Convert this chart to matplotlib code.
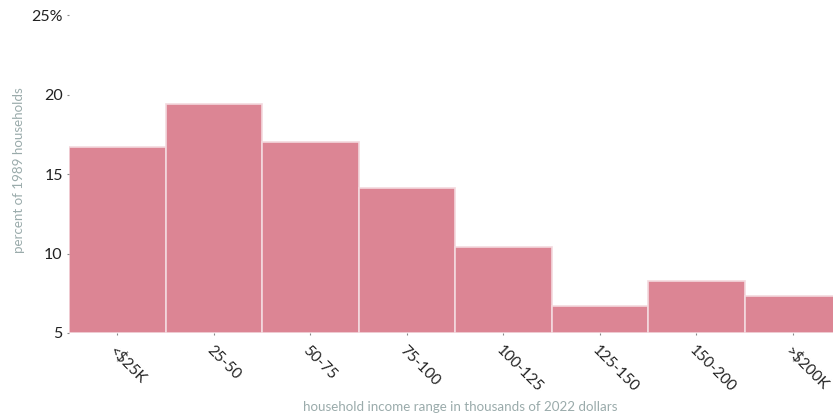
import matplotlib.pyplot as plt
import numpy as np

plt.rcParams['font.family'] = ['Lato', 'DejaVu Sans']

# udzial gospodarstw domowych wg przedzialu dochodu (1989)
przedzialy = ['<$25K', '25-50', '50-75', '75-100', '100-125', '125-150', '150-200', '>$200K']
procent = [16.7, 19.4, 17.0, 14.1, 10.4, 6.7, 8.3, 7.3]
y_ticki = [5, 10, 15, 20, 25]
y_etykiety = ['5', '10', '15', '20', '25%']

fig = plt.figure(figsize=(8.33, 4.16), dpi=100)
ax = fig.add_axes([69 / 833, 1 - 333 / 416, 772 / 833, 318 / 416])

x = np.arange(len(przedzialy))
ax.bar(x, [p - 5 for p in procent], bottom=5, width=1.0, color='#dc8594',
       edgecolor='#f3d9de', linewidth=1.2)

ax.set_xlim(-0.5, len(przedzialy) - 0.5)
ax.set_ylim(5, 25)
ax.set_yticks(y_ticki)
ax.set_yticklabels(y_etykiety, fontsize=11.5, color='#222222')
ax.set_xticks(x)
ax.set_xticklabels(przedzialy, fontsize=11, color='#222222', rotation=-45,
                   ha='left', va='top', rotation_mode='anchor')
ax.tick_params(axis='y', length=1.5, width=0.8, color='#888888', pad=3)
ax.tick_params(axis='x', length=1.5, width=0.8, color='#888888', pad=6)

for s in ax.spines.values():
    s.set_visible(False)

fig.text(19 / 833, 1 - 170 / 416, 'percent of 1989 households', rotation=90,
         fontsize=9.6, color='#9aabab', ha='center', va='center')
fig.text(460 / 833, 1 - 407 / 416, 'household income range in thousands of 2022 dollars',
         fontsize=9.6, color='#9aabab', ha='center', va='center')

plt.savefig('out.png', dpi=100)
